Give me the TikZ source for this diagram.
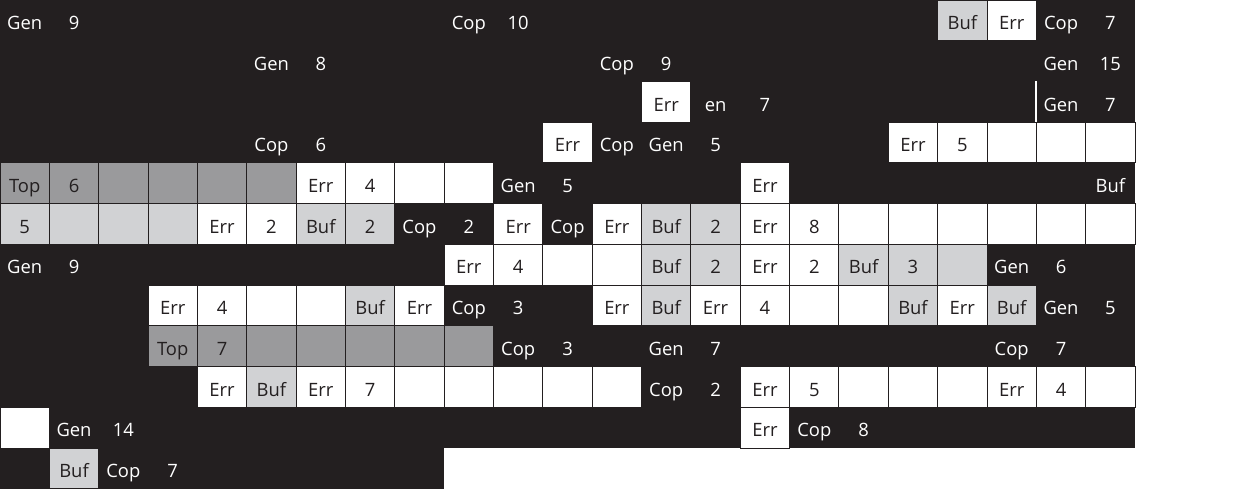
\documentclass[tikz,border=0pt]{standalone}
\usepackage{fontspec}
\setmainfont{Open Sans}
\definecolor{bk}{HTML}{231F20}
\definecolor{dgray}{HTML}{9A9A9C}
\definecolor{lgray}{HTML}{D1D2D4}
\newcommand\gc[4]{\node[#1] (c#2r#3) at ({(#2+0.5)*49.35},{(#3+0.5)*40.73}) {#4};}
\begin{document}
\begin{tikzpicture}[x=0.5pt,y=-0.5pt,
  every node/.style={font=\fontsize{9.2}{11}\selectfont, inner sep=0pt,
    text height=9.2pt, text depth=0pt,
    minimum width=24.675pt, minimum height=20.365pt},
  bt/.style={text=white},
  wc/.style={fill=white, draw=bk, line width=0.5pt, text=bk},
  lg/.style={fill=lgray, draw=bk, line width=0.5pt, text=bk},
  dg/.style={fill=dgray, draw=bk, line width=0.5pt, text=bk}]
\useasboundingbox (0,0) rectangle (1238,489);
\fill[white] (0,0) rectangle (1238,489);
\fill[bk] (0,0) rectangle (1135,448);
\fill[bk] (0,448) rectangle (444.2,489);
% row 0
\gc{bt}{0}{0}{Gen}\gc{bt}{1}{0}{9}\gc{bt}{9}{0}{Cop}\gc{bt}{10}{0}{10}
\gc{lg}{19}{0}{Buf}\gc{wc}{20}{0}{Err}\gc{bt}{21}{0}{Cop}\gc{bt}{22}{0}{7}
% row 1
\gc{bt}{5}{1}{Gen}\gc{bt}{6}{1}{8}\gc{bt}{12}{1}{Cop}\gc{bt}{13}{1}{9}
\gc{bt}{21}{1}{Gen}\gc{bt}{22}{1}{15}
% row 2
\gc{wc}{13}{2}{Err}\gc{bt}{14}{2}{en}\gc{bt}{15}{2}{7}
\gc{bt}{21}{2}{Gen}\gc{bt}{22}{2}{7}
\draw[white, line width=0.6pt] (c21r2.north west) -- (c21r2.south west);
% row 3
\gc{bt}{5}{3}{Cop}\gc{bt}{6}{3}{6}\gc{wc}{11}{3}{Err}\gc{bt}{12}{3}{Cop}
\gc{bt}{13}{3}{Gen}\gc{bt}{14}{3}{5}
\gc{wc}{18}{3}{Err}\gc{wc}{19}{3}{5}\gc{wc}{20}{3}{}\gc{wc}{21}{3}{}\gc{wc}{22}{3}{}
% row 4
\gc{dg}{0}{4}{Top}\gc{dg}{1}{4}{6}\gc{dg}{2}{4}{}\gc{dg}{3}{4}{}\gc{dg}{4}{4}{}\gc{dg}{5}{4}{}
\gc{wc}{6}{4}{Err}\gc{wc}{7}{4}{4}\gc{wc}{8}{4}{}\gc{wc}{9}{4}{}
\gc{bt}{10}{4}{Gen}\gc{bt}{11}{4}{5}\gc{wc}{15}{4}{Err}\gc{bt}{22}{4}{Buf}
% row 5
\gc{lg}{0}{5}{5}\gc{lg}{1}{5}{}\gc{lg}{2}{5}{}\gc{lg}{3}{5}{}
\gc{wc}{4}{5}{Err}\gc{wc}{5}{5}{2}\gc{lg}{6}{5}{Buf}\gc{lg}{7}{5}{2}
\gc{bt}{8}{5}{Cop}\gc{bt}{9}{5}{2}\gc{wc}{10}{5}{Err}\gc{bt}{11}{5}{Cop}
\gc{wc}{12}{5}{Err}\gc{lg}{13}{5}{Buf}\gc{lg}{14}{5}{2}\gc{wc}{15}{5}{Err}\gc{wc}{16}{5}{8}
\gc{wc}{17}{5}{}\gc{wc}{18}{5}{}\gc{wc}{19}{5}{}\gc{wc}{20}{5}{}\gc{wc}{21}{5}{}\gc{wc}{22}{5}{}
% row 6
\gc{bt}{0}{6}{Gen}\gc{bt}{1}{6}{9}
\gc{wc}{9}{6}{Err}\gc{wc}{10}{6}{4}\gc{wc}{11}{6}{}\gc{wc}{12}{6}{}
\gc{lg}{13}{6}{Buf}\gc{lg}{14}{6}{2}\gc{wc}{15}{6}{Err}\gc{wc}{16}{6}{2}
\gc{lg}{17}{6}{Buf}\gc{lg}{18}{6}{3}\gc{lg}{19}{6}{}\gc{bt}{20}{6}{Gen}\gc{bt}{21}{6}{6}
% row 7
\gc{wc}{3}{7}{Err}\gc{wc}{4}{7}{4}\gc{wc}{5}{7}{}\gc{wc}{6}{7}{}\gc{lg}{7}{7}{Buf}\gc{wc}{8}{7}{Err}
\gc{bt}{9}{7}{Cop}\gc{bt}{10}{7}{3}
\gc{wc}{12}{7}{Err}\gc{lg}{13}{7}{Buf}\gc{wc}{14}{7}{Err}\gc{wc}{15}{7}{4}\gc{wc}{16}{7}{}\gc{wc}{17}{7}{}
\gc{lg}{18}{7}{Buf}\gc{wc}{19}{7}{Err}\gc{lg}{20}{7}{Buf}\gc{bt}{21}{7}{Gen}\gc{bt}{22}{7}{5}
% row 8
\gc{dg}{3}{8}{Top}\gc{dg}{4}{8}{7}\gc{dg}{5}{8}{}\gc{dg}{6}{8}{}\gc{dg}{7}{8}{}\gc{dg}{8}{8}{}\gc{dg}{9}{8}{}
\gc{bt}{10}{8}{Cop}\gc{bt}{11}{8}{3}\gc{bt}{13}{8}{Gen}\gc{bt}{14}{8}{7}
\gc{bt}{20}{8}{Cop}\gc{bt}{21}{8}{7}
% row 9
\gc{wc}{4}{9}{Err}\gc{lg}{5}{9}{Buf}\gc{wc}{6}{9}{Err}\gc{wc}{7}{9}{7}
\gc{wc}{8}{9}{}\gc{wc}{9}{9}{}\gc{wc}{10}{9}{}\gc{wc}{11}{9}{}\gc{wc}{12}{9}{}
\gc{bt}{13}{9}{Cop}\gc{bt}{14}{9}{2}\gc{wc}{15}{9}{Err}\gc{wc}{16}{9}{5}
\gc{wc}{17}{9}{}\gc{wc}{18}{9}{}\gc{wc}{19}{9}{}\gc{wc}{20}{9}{Err}\gc{wc}{21}{9}{4}\gc{wc}{22}{9}{}
% row 10
\gc{wc}{0}{10}{}\gc{bt}{1}{10}{Gen}\gc{bt}{2}{10}{14}
\gc{wc}{15}{10}{Err}\gc{bt}{16}{10}{Cop}\gc{bt}{17}{10}{8}
% row 11
\gc{lg}{1}{11}{Buf}\gc{bt}{2}{11}{Cop}\gc{bt}{3}{11}{7}
\end{tikzpicture}
\end{document}
